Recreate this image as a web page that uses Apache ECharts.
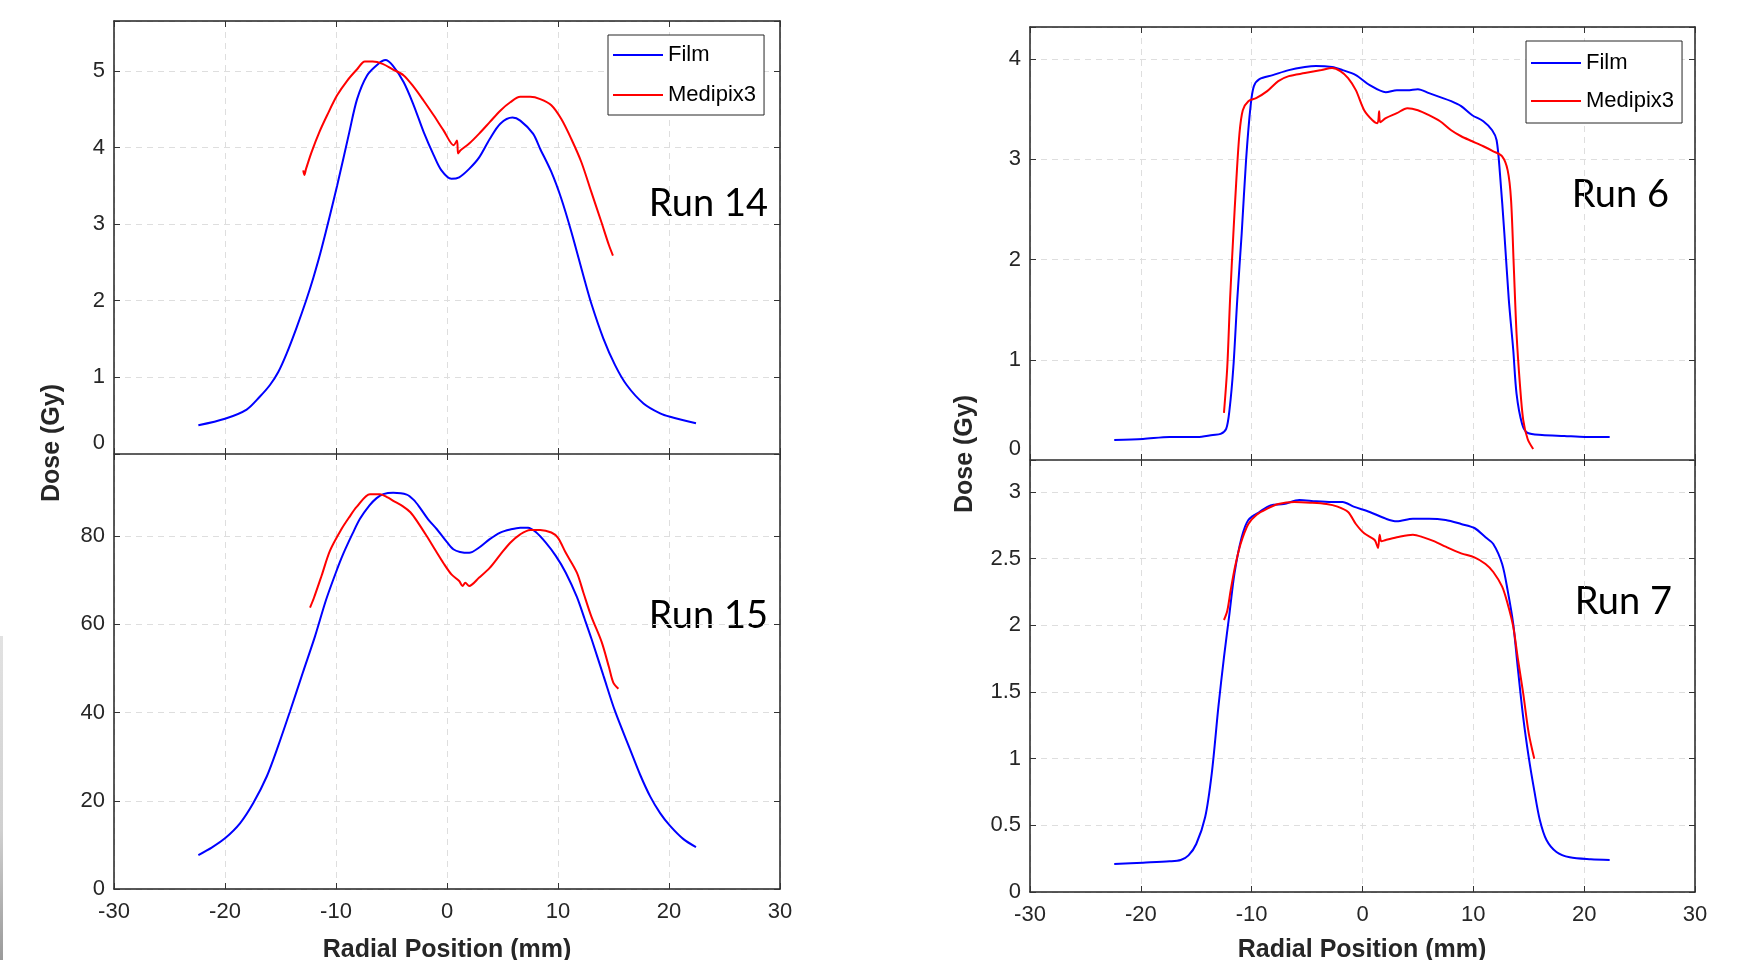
<!DOCTYPE html>
<html>
<head>
<meta charset="utf-8">
<script src="https://cdn.jsdelivr.net/npm/echarts@6/dist/echarts.min.js"></script>
<style>
html,body{margin:0;padding:0;background:#fff;}
#chart{width:1745px;height:960px;}
</style>
</head>
<body>
<div id="chart"></div>
<script>
// ---------- Data (Radial position mm, Dose) ----------
const run14Film = [[-22.4,0.375],[-20,0.46],[-18.05,0.58],[-16.85,0.75],[-15.95,0.90],[-15.2,1.07],[-14.45,1.31],[-13.55,1.65],[-12.7,2.0],[-12.04,2.3],[-11.3,2.68],[-9.9,3.5],[-8.8,4.2],[-8.1,4.63],[-7.2,4.94],[-6.2,5.09],[-5.55,5.14],[-4.9,5.07],[-3.9,4.85],[-3.0,4.55],[-2.1,4.2],[-1.2,3.9],[-0.5,3.7],[0.4,3.59],[1.1,3.61],[2.0,3.72],[2.9,3.87],[3.85,4.11],[4.8,4.31],[5.9,4.39],[6.6,4.35],[7.75,4.18],[8.4,3.98],[9.4,3.68],[10.3,3.33],[11.2,2.9],[12.28,2.33],[13.03,1.95],[14.08,1.51],[15.14,1.16],[16.19,0.90],[17.7,0.66],[19.2,0.53],[20.1,0.485],[22.43,0.40]];
const run14Medipix = [[-12.95,3.70],[-12.85,3.64],[-12.7,3.72],[-12.2,3.94],[-11.5,4.2],[-10.8,4.42],[-9.9,4.68],[-9.0,4.87],[-8.1,5.02],[-7.4,5.12],[-6.7,5.12],[-5.8,5.09],[-4.9,5.02],[-3.9,4.94],[-3.0,4.79],[-2.1,4.61],[-1.2,4.42],[-0.3,4.22],[0.6,4.03],[0.9,4.09],[1.0,3.92],[1.2,3.96],[2.0,4.05],[2.9,4.18],[3.85,4.33],[4.8,4.48],[5.7,4.59],[6.6,4.66],[7.5,4.66],[8.4,4.63],[9.4,4.55],[10.3,4.37],[11.2,4.11],[12.1,3.81],[13.0,3.42],[13.9,3.03],[14.6,2.72],[14.95,2.59]];

const run15Film = [[-22.4,7.7],[-21.2,9.4],[-20,11.5],[-18.65,14.9],[-17.45,19.5],[-16.24,25.5],[-15.2,32.5],[-14.14,40.3],[-12.94,49.4],[-11.9,57.2],[-10.9,65.5],[-10.0,71.8],[-9.34,76.0],[-8.5,80.6],[-7.84,83.9],[-7.0,86.9],[-6.34,88.6],[-5.74,89.5],[-4.84,89.8],[-3.63,89.4],[-3.0,88.2],[-2.43,86.4],[-1.7,83.8],[-0.93,81.6],[0.0,78.6],[0.57,77.0],[1.17,76.4],[2.0,76.2],[2.9,77.4],[3.85,79.3],[4.8,80.8],[5.7,81.5],[6.6,81.9],[7.3,81.9],[8.0,80.9],[8.9,78.5],[9.8,75.5],[10.7,71.7],[11.7,66.2],[12.4,61.2],[13.03,56.6],[14.1,48.3],[15.14,40.3],[16.5,31.6],[17.4,25.9],[18.3,21.0],[19.2,17.2],[20.1,14.3],[21.3,11.3],[22.43,9.5]];
const run15Medipix = [[-12.34,63.8],[-12.0,65.9],[-11.3,71.0],[-10.54,76.7],[-9.5,81.6],[-8.8,84.3],[-8.14,86.6],[-6.94,89.5],[-6.04,89.5],[-5.3,88.7],[-4.84,88.0],[-4.0,86.8],[-3.3,85.4],[-2.6,83.0],[-1.83,80.0],[-1.0,76.6],[-0.33,73.9],[0.4,71.3],[1.1,69.8],[1.4,68.7],[1.65,69.4],[2.0,68.7],[2.9,70.6],[3.85,72.8],[4.8,75.8],[5.7,78.5],[6.6,80.4],[7.5,81.4],[8.4,81.4],[9.4,80.8],[10.0,79.6],[10.7,76.2],[11.7,71.7],[12.3,67.1],[13.0,61.8],[13.93,56.0],[14.6,50.2],[14.98,46.8],[15.44,45.4]];

const run6Film = [[-22.4,0.20],[-19.8,0.21],[-17.4,0.23],[-14.9,0.23],[-13.5,0.25],[-12.8,0.26],[-12.3,0.31],[-12.0,0.50],[-11.65,0.93],[-11.3,1.6],[-10.9,2.26],[-10.5,3.0],[-10.1,3.53],[-9.8,3.73],[-9.3,3.80],[-8.1,3.84],[-6.65,3.89],[-5.2,3.92],[-4.2,3.93],[-2.75,3.92],[-1.8,3.89],[-0.6,3.84],[0.65,3.74],[2.1,3.67],[3.1,3.69],[4.05,3.69],[5.0,3.70],[6.0,3.66],[7.0,3.62],[8.0,3.58],[8.9,3.53],[9.9,3.44],[10.9,3.38],[11.7,3.29],[12.1,3.19],[12.4,2.86],[12.8,2.26],[13.2,1.60],[13.6,1.10],[13.9,0.66],[14.4,0.36],[14.9,0.27],[16.2,0.25],[18.2,0.24],[20.1,0.23],[22.3,0.23]];
const run6Medipix = [[-12.5,0.47],[-12.2,0.93],[-11.95,1.6],[-11.65,2.26],[-11.4,2.76],[-11.1,3.26],[-10.8,3.49],[-10.3,3.58],[-9.6,3.61],[-8.6,3.68],[-7.6,3.78],[-6.65,3.83],[-5.2,3.86],[-3.7,3.89],[-2.75,3.91],[-2.0,3.88],[-1.3,3.81],[-0.6,3.69],[0.15,3.49],[0.9,3.39],[1.35,3.36],[1.5,3.48],[1.6,3.37],[2.1,3.41],[3.1,3.46],[4.05,3.51],[5.0,3.49],[6.0,3.44],[7.0,3.38],[8.0,3.29],[8.9,3.23],[9.9,3.18],[10.9,3.13],[11.8,3.08],[12.6,3.03],[13.1,2.89],[13.4,2.6],[13.65,1.93],[13.9,1.26],[14.2,0.76],[14.5,0.40],[14.9,0.21],[15.4,0.11]];

const run7Film = [[-22.4,0.21],[-19.8,0.22],[-17.4,0.23],[-16.4,0.24],[-15.7,0.275],[-15.0,0.36],[-14.2,0.56],[-13.6,0.89],[-13.0,1.39],[-12.5,1.76],[-12.0,2.09],[-11.55,2.39],[-10.9,2.66],[-10.3,2.79],[-9.3,2.85],[-8.3,2.9],[-7.1,2.91],[-5.7,2.94],[-4.2,2.93],[-2.75,2.925],[-1.8,2.925],[-0.8,2.89],[0.65,2.85],[2.1,2.8],[3.1,2.78],[4.55,2.8],[6.0,2.8],[7.5,2.79],[8.9,2.76],[10.1,2.73],[11.1,2.66],[11.8,2.61],[12.6,2.46],[13.1,2.26],[13.6,2.01],[14.0,1.69],[14.5,1.31],[15.0,1.01],[15.5,0.76],[16.0,0.54],[16.6,0.39],[17.5,0.30],[18.7,0.26],[20.6,0.245],[22.3,0.24]];
const run7Medipix = [[-12.5,2.04],[-12.2,2.11],[-11.9,2.26],[-11.5,2.44],[-11.0,2.61],[-10.3,2.76],[-9.55,2.83],[-8.6,2.875],[-7.6,2.91],[-6.15,2.925],[-4.7,2.92],[-3.25,2.91],[-2.25,2.89],[-1.3,2.85],[-0.6,2.76],[0.15,2.69],[1.1,2.64],[1.4,2.58],[1.55,2.68],[1.7,2.63],[2.1,2.64],[3.1,2.66],[4.55,2.68],[5.5,2.66],[6.5,2.63],[7.5,2.59],[8.9,2.54],[10.1,2.51],[11.1,2.46],[11.8,2.4],[12.6,2.29],[13.1,2.16],[13.6,1.99],[14.0,1.76],[14.5,1.49],[15.0,1.19],[15.5,1.0]];

// ---------- Axis settings ----------
const xRange = [-30, 30];
const xInterval = 10;
const panelYMax = [5.65, 98.6, 4.32, 3.24];      // TL, BL, TR, BR
const panelYInterval = [1, 20, 1, 0.5];
const runLabels = ['Run 14', 'Run 15', 'Run 6', 'Run 7'];
const seriesNames = ['Film', 'Medipix3'];
const xTitle = 'Radial Position (mm)';
const yTitle = 'Dose (Gy)';

// ---------- Build ----------
const FONT = '"Liberation Sans", Arial, sans-serif';
const RUNFONT = '38px Lato, "Open Sans", sans-serif';
const TXT = '#262626';
const grids = [
  {left:114, top:21, width:666, height:433},
  {left:114, top:454, width:666, height:435},
  {left:1030, top:27, width:665, height:433},
  {left:1030, top:460, width:665, height:432}
];
const isTop = [true, false, true, false];

const xAxes = [], yAxes = [];
grids.forEach((g, i) => {
  xAxes.push({
    type:'value', gridIndex:i, position:'bottom', min:xRange[0], max:xRange[1], interval:xInterval,
    axisLine:{show:true, onZero:false, lineStyle:{color: isTop[i] ? '#555' : '#222', width:1.5}},
    axisTick:{show:true, inside:true, length:6, lineStyle:{color:'#333'}},
    axisLabel:{show: !isTop[i], fontSize:22, fontFamily:FONT, color:TXT, margin:12},
    splitLine:{show:true, lineStyle:{color:'#dedede', width:1, type:[6,5]}}
  });
  xAxes.push({
    type:'value', gridIndex:i, position:'top', min:xRange[0], max:xRange[1], interval:xInterval,
    axisLine:{show:true, onZero:false, lineStyle:{color: isTop[i] ? '#222' : '#555', width:1.5}},
    axisTick:{show:true, inside:true, length:6, lineStyle:{color:'#333'}},
    axisLabel:{show:false}, splitLine:{show:false}
  });
  const iv = panelYInterval[i];
  const raise = isTop[i];
  yAxes.push({
    type:'value', gridIndex:i, position:'left', min:0, max:panelYMax[i], interval:iv,
    axisLine:{show:true, onZero:false, lineStyle:{color:'#222', width:1.5}},
    axisTick:{show:true, inside:true, length:6, lineStyle:{color:'#333'}},
    axisLabel:{
      show:true, fontSize:22, fontFamily:FONT, color:TXT, margin:9,
      formatter: function(v){
        const k = v / iv;
        if (Math.abs(k - Math.round(k)) > 1e-6) return '';
        if (v === 0 && raise) return '{z|0}';
        return String(Math.round(v*100)/100);
      },
      rich:{ z:{fontSize:22, fontFamily:FONT, color:TXT, padding:[0,0,22,0]} }
    },
    splitLine:{show:true, lineStyle:{color:'#dedede', width:1, type:[6,5]}}
  });
  yAxes.push({
    type:'value', gridIndex:i, position:'right', min:0, max:panelYMax[i], interval:iv,
    axisLine:{show:true, onZero:false, lineStyle:{color:'#222', width:1.5}},
    axisTick:{show:true, inside:true, length:6, lineStyle:{color:'#333'}},
    axisLabel:{show:false}, splitLine:{show:false}
  });
});

const panelData = [
  [run14Film, run14Medipix],
  [run15Film, run15Medipix],
  [run6Film, run6Medipix],
  [run7Film, run7Medipix]
];
const colors = ['#0000ff', '#ff0000'];
const series = [];
panelData.forEach((pair, i) => {
  pair.forEach((d, j) => {
    series.push({
      type:'line', name:seriesNames[j], xAxisIndex:i*2, yAxisIndex:i*2,
      data:d, symbol:'none', showSymbol:false, smooth:0.3,
      lineStyle:{color:colors[j], width:2}, itemStyle:{color:colors[j]},
      animation:false, z:3
    });
  });
});

// legend icon: a thin horizontal bar centred in a 50x14 box
const LINE_ICON = 'path://M0,0L0,0Z M50,14L50,14Z M0,6.1L50,6.1L50,7.9L0,7.9Z';

function legendAt(left, top, gap, pad) {
  return {
    left:left, top:top, orient:'vertical',
    data:seriesNames.map(n => ({name:n, icon:LINE_ICON})),
    itemWidth:50, itemHeight:14, itemGap:gap, padding:pad,
    borderColor:'#262626', borderWidth:1, backgroundColor:'#ffffff',
    textStyle:{fontSize:22, fontFamily:FONT, color:'#000'},
    selectedMode:false
  };
}

const graphic = [
  {type:'rect', left:0, top:636, shape:{width:3, height:324},
   style:{fill:new echarts.graphic.LinearGradient(0,0,0,1,[{offset:0,color:'#e2e2e2'},{offset:0.6,color:'#d0d0d0'},{offset:1,color:'#9a9a9a'}])}},
  {type:'text', x:52, y:443, rotation:Math.PI/2,
   style:{text:yTitle, font:'bold 25px ' + FONT, fill:TXT, align:'center', verticalAlign:'middle'}},
  {type:'text', x:965, y:454, rotation:Math.PI/2,
   style:{text:yTitle, font:'bold 25px ' + FONT, fill:TXT, align:'center', verticalAlign:'middle'}},
  {type:'text', x:447, y:950,
   style:{text:xTitle, font:'bold 25px ' + FONT, fill:TXT, align:'center', verticalAlign:'middle'}},
  {type:'text', x:1362, y:950,
   style:{text:xTitle, font:'bold 25px ' + FONT, fill:TXT, align:'center', verticalAlign:'middle'}},
  {type:'text', x:768, y:204, style:{text:runLabels[0], font:RUNFONT, fill:'#000', align:'right', verticalAlign:'middle'}},
  {type:'text', x:768, y:616, style:{text:runLabels[1], font:RUNFONT, fill:'#000', align:'right', verticalAlign:'middle'}},
  {type:'text', x:1669, y:195, style:{text:runLabels[2], font:RUNFONT, fill:'#000', align:'right', verticalAlign:'middle'}},
  {type:'text', x:1672, y:602, style:{text:runLabels[3], font:RUNFONT, fill:'#000', align:'right', verticalAlign:'middle'}}
];

const chart = echarts.init(document.getElementById('chart'), null, {renderer:'canvas'});
chart.setOption({
  backgroundColor:'#ffffff',
  animation:false,
  grid:grids,
  xAxis:xAxes,
  yAxis:yAxes,
  legend:[legendAt(608, 35, 18, [9,8,9,5]), legendAt(1526, 41, 16, [11,8,11,5])],
  series:series,
  graphic:graphic
});
</script>
</body>
</html>
